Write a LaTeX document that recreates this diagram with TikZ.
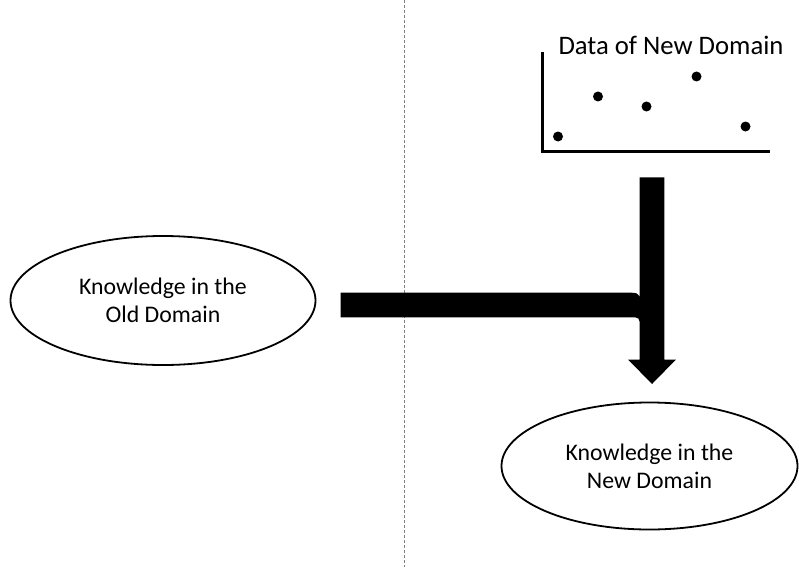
\documentclass[tikz,border=0pt]{standalone}
\usepackage{fontspec}
\setmainfont{Carlito}
\usetikzlibrary{shapes.geometric}
\tikzset{
  domainoval/.style={draw, ellipse, line width=1.8pt, inner sep=0pt,
    align=center, font=\fontsize{23.8}{28}\selectfont}
}
\begin{document}
\begin{tikzpicture}[x=1pt,y=-1pt]
      \useasboundingbox (0,0) rectangle (799,567);
      \draw[gray, line width=1pt, dash pattern=on 3pt off 2pt] (404,0) -- (404,567);
      \draw
        (163,300.5) node[domainoval, minimum width=305, minimum height=129] (old){Knowledge in the\\Old Domain}
        (649.5,466) node[domainoval, minimum width=296, minimum height=127] (new){Knowledge in the\\New Domain}
        (671,55) node[anchor=base, font=\fontsize{26.7}{30}\selectfont, inner sep=0pt] (data){Data of New Domain};
      % plot of the new data
      \coordinate (ytop) at (542,52);
      \coordinate (orig) at (542,151);
      \coordinate (xend) at (770,151);
      \draw[line width=3pt] (ytop) -- (orig) -- (xend);
      \foreach \x/\y in {558/136.5, 598/96.5, 646.5/106.5, 696.5/76.5, 745.5/126.5}
        \fill (\x,\y) circle (5);
      % transfer arrow, one filled outline
      \coordinate (from) at (340.7,305);
      \coordinate (vtop) at (652,177.3);
      \coordinate (head) at (652,359.5);
      \coordinate (tip) at (652,384);
      \fill ([yshift=12.3pt]from) -- (628,292.7) .. controls (637,292.7) .. (639.7,297)
        -- ([xshift=-12.3pt]vtop) -- ([xshift=12.3pt]vtop) -- ([xshift=12.3pt]head)
        -- ([xshift=24pt]head) -- (tip) -- ([xshift=-24pt]head) -- ([xshift=-12.3pt]head)
        -- (639.7,327.3) .. controls (639.7,317.3) .. (629.7,317.3) -- ([yshift=-12.3pt]from) -- cycle;
    \end{tikzpicture}
\end{document}
